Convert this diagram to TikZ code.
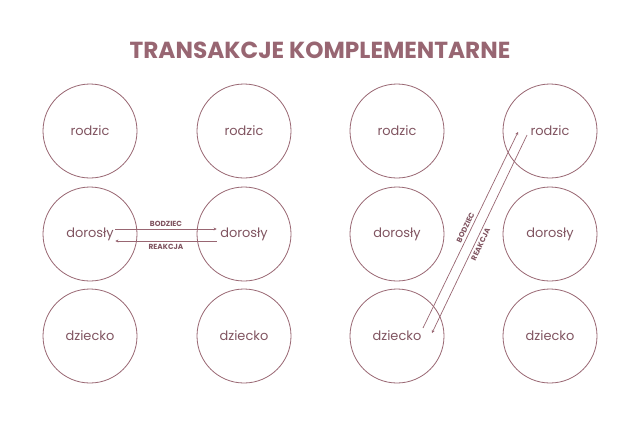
\documentclass[tikz,border=0pt]{standalone}
\usepackage{fontspec}
\setmainfont{Poppins}
\usetikzlibrary{arrows.meta}
\definecolor{mauve}{RGB}{152,102,114}
\definecolor{mauvetext}{RGB}{128,84,96}
\tikzset{
	ego/.style={circle,draw=mauve,line width=0.8bp,minimum size=94bp,inner sep=0pt,text=mauvetext,font=\fontsize{13}{15}\selectfont},
	msg/.style={draw=mauve,line width=0.7bp,-{Stealth[length=3bp,width=3bp]}},
	lbl/.style={text=mauvetext,font=\fontsize{7.4}{8}\selectfont\bfseries,inner sep=2.5bp}
}
\begin{document}
\begin{tikzpicture}[x=1bp,y=-1bp]
	\useasboundingbox (0,0) rectangle (640,426);
	\node[text=mauve,font=\fontsize{23.3}{26}\selectfont\bfseries] (title) at (320,50) {TRANSAKCJE KOMPLEMENTARNE};
	% stany ego
	\foreach \i/\x in {1/90,2/244,3/397,4/550}{
		\node[ego] (r\i) at (\x,131) {rodzic};
		\node[ego] (d\i) at (\x,234) {dorosły};
		\node[ego] (k\i) at (\x,336) {dziecko};
	}
	% dorosly - dorosly
	\draw[msg] ([xshift=-22bp,yshift=5bp]d1.east) -- ([xshift=20bp,yshift=5bp]d2.west)
		node[lbl,midway,above] {BODZIEC};
	\draw[msg] ([xshift=20bp,yshift=-7bp]d2.west) -- ([xshift=-22bp,yshift=-7bp]d1.east)
		node[lbl,midway,below] {REAKCJA};
	% dziecko - rodzic
	\draw[msg] ([xshift=26bp,yshift=8bp]k3.center) -- ([xshift=-32bp,yshift=-1bp]r4.center)
		node[lbl,midway,sloped,above] {BODZIEC};
	\draw[msg] ([xshift=-23bp,yshift=-4bp]r4.center) -- ([xshift=35bp,yshift=3bp]k3.center)
		node[lbl,pos=0.54,sloped,below] {REAKCJA};
\end{tikzpicture}
\end{document}
